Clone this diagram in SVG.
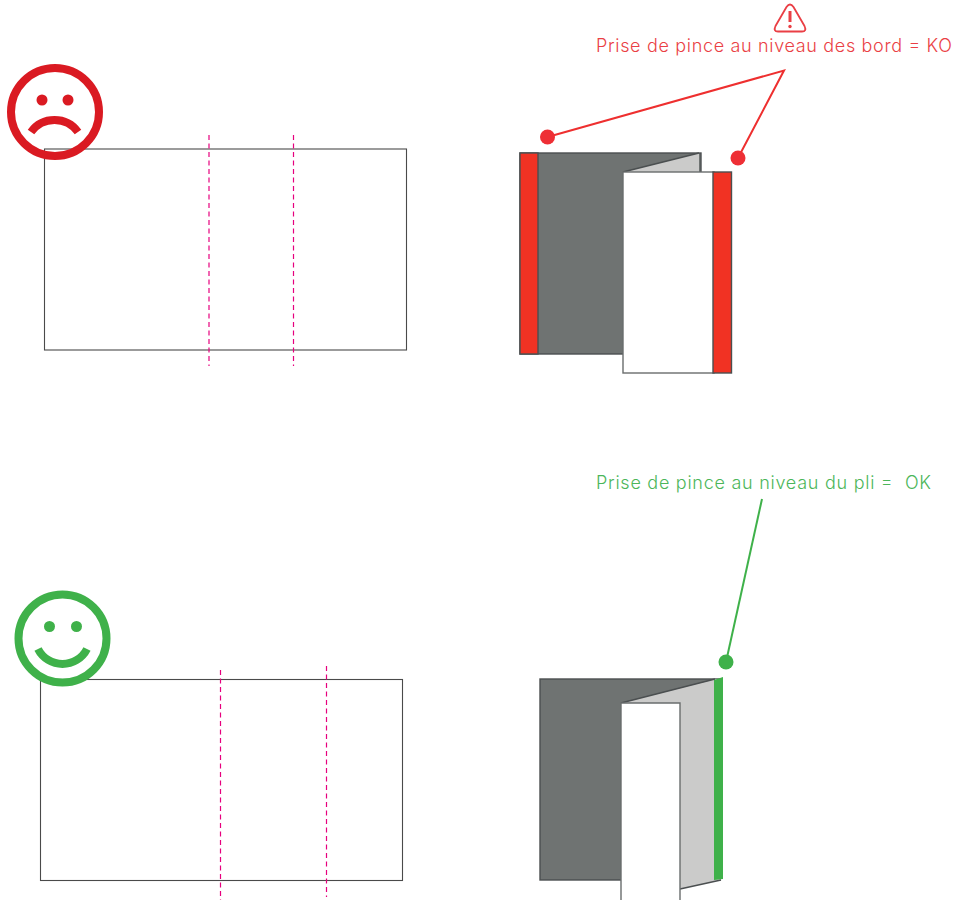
<svg xmlns="http://www.w3.org/2000/svg" width="955" height="900" viewBox="0 0 955 900">
<style>
.sheet{fill:#fff;stroke:#4a4a4a;stroke-width:1.1}
.fold{stroke:#e6007e;stroke-width:1.2;stroke-dasharray:5 3.5;fill:none}
.edge{stroke:#4b4f50;stroke-width:1.4}
.dark{fill:#6f7372}
.light{fill:#cbcbca}
.white{fill:#fff;stroke:#6a6d6d;stroke-width:1.4}
.red{fill:#f13223}
.lbl{font-family:"Inter","Liberation Sans",sans-serif;font-weight:300;font-size:18px}
.ko{fill:#ea3f45}.ok{fill:#4cb65a}
</style>
<rect width="955" height="900" fill="#fff"/>
<g id="sheet-ko">
<rect class="sheet" x="44.500" y="149" width="362" height="201"/>
<line class="fold" x1="209" y1="135" x2="209" y2="366"/>
<line class="fold" x1="293.500" y1="135" x2="293.500" y2="366"/>
</g>
<g id="sad-face" fill="none" stroke="#da1a22">
<circle cx="55" cy="112" r="44" stroke-width="8"/>
<path d="M31 132A29 29 0 0 1 78 132" stroke-width="8"/>
<circle cx="42" cy="100" r="5.500" fill="#da1a22" stroke="none"/>
<circle cx="68" cy="100" r="5.500" fill="#da1a22" stroke="none"/>
</g>
<g id="brochure-ko">
<rect class="dark edge" x="520" y="153" width="181" height="201"/>
<polygon class="light" points="623,172 699,153 699,172"/>
<line class="edge" x1="623" y1="172" x2="699" y2="153"/>
<rect class="red edge" x="520" y="153" width="18" height="201"/>
<rect class="white" x="623" y="172" width="91" height="201"/>
<rect class="red edge" x="713" y="172" width="18.500" height="201"/>
</g>
<g id="warning" fill="none" stroke="#ea3f45" stroke-width="1.800">
<path d="M786.500 7Q790 2 793.500 7L804.500 26Q807 31.500 802 31.500H778Q773 31.500 775.500 26Z" stroke-linejoin="round"/>
<path d="M790 11V22" stroke-width="3"/>
<circle cx="790" cy="26.500" r="1.700" fill="#ea3f45" stroke="none"/>
</g>
<g id="label-ko"><text class="lbl ko" x="596" y="52" textLength="356" lengthAdjust="spacing">Prise de pince au niveau des bord = KO</text></g>
<g id="connectors" fill="none" stroke-width="2">
<path d="M547.500 137L784 70.500L738 158" stroke="#ee2f2f"/>
<path d="M762 499L726 662" stroke="#3fb14a"/>
</g>
<g id="markers-ko" fill="#ee2f35">
<circle cx="547.500" cy="137" r="7.500"/>
<circle cx="738" cy="158" r="7.500"/>
</g>
<g id="sheet-ok">
<rect class="sheet" x="40.500" y="679.500" width="362" height="201"/>
<line class="fold" x1="220.500" y1="670" x2="220.500" y2="900"/>
<line class="fold" x1="326.500" y1="666" x2="326.500" y2="897"/>
</g>
<g id="happy-face" fill="none" stroke="#3fb14a">
<circle cx="62.500" cy="638.500" r="44" stroke-width="8"/>
<path d="M38 649A27.500 27.500 0 0 0 87 649" stroke-width="8"/>
<circle cx="49.500" cy="626.500" r="5.500" fill="#3fb14a" stroke="none"/>
<circle cx="76.500" cy="626.500" r="5.500" fill="#3fb14a" stroke="none"/>
</g>
<g id="brochure-ok">
<rect class="dark edge" x="540" y="679" width="180" height="201"/>
<polygon class="light" points="621,703 716,679 721,679 721,880 680,889 621,889"/>
<line class="edge" x1="621" y1="703" x2="715" y2="679"/>
<line class="edge" x1="680" y1="889" x2="721" y2="880"/>
<polygon points="714,680 723,677 723,879 714,880" fill="#3fb14a"/>
<path class="white" d="M621 900V703H680V900"/>
</g>
<g id="label-ok"><text class="lbl ok" x="596" y="489" textLength="335" lengthAdjust="spacing" xml:space="preserve">Prise de pince au niveau du pli =  OK</text></g>
<g id="marker-ok"><circle cx="726" cy="662" r="7.500" fill="#3fb14a"/></g>
</svg>
